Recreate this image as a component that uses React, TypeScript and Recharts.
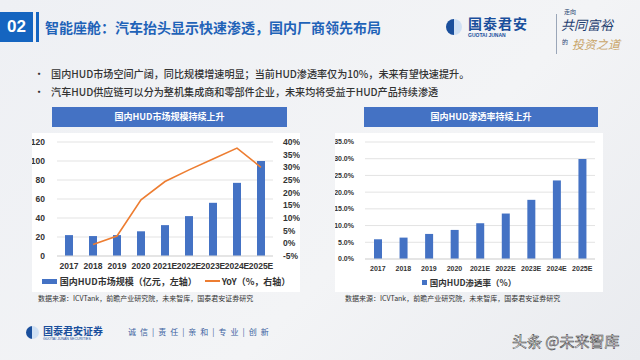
import React from "react";
import {
  ComposedChart,
  BarChart,
  Bar,
  Line,
  XAxis,
  YAxis,
  CartesianGrid,
} from "recharts";

const years = ["2017", "2018", "2019", "2020", "2021E", "2022E", "2023E", "2024E", "2025E"];
const marketSize = [22, 21, 22, 26, 32.5, 42, 56, 77, 100];
const yoy = [null, -0.5, 2.9, 17.2, 24.4, 29, 33.3, 37.6, 30];
const penetration = [5.9, 6.4, 7.5, 8.7, 10.7, 13.6, 17.7, 23.5, 29.9];

const leftTicks = [0, 20, 40, 60, 80, 100, 120];
const rightTicks = [-5, 0, 5, 10, 15, 20, 25, 30, 35, 40];
const penTicks = [0, 5, 10, 15, 20, 25, 30, 35];

const bullets = [
  "国内HUD市场空间广阔，同比规模增速明显；当前HUD渗透率仅为10%，未来有望快速提升。",
  "汽车HUD供应链可以分为整机集成商和零部件企业，未来均将受益于HUD产品持续渗透",
];
const sourceText = "数据来源：ICVTank，前瞻产业研究院，未来智库，国泰君安证券研究";
const sizeName = "国内HUD市场规模（亿元，左轴）";
const yoyName = "YoY（%，右轴）";
const rateName = "国内HUD渗透率（%）";

const marketData = years.map((y, i) => ({ year: y, size: marketSize[i], yoy: yoy[i] }));
const penData = years.map((y, i) => ({ year: y, rate: penetration[i] }));

const BLUE = "#4472c4";
const ORANGE = "#ed7d31";
const CJK = "'Noto Sans CJK SC', 'Noto Sans', sans-serif";
const LATIN = "'Liberation Sans', Arial, sans-serif";
const tickStyle = { fontSize: 8.5, fontWeight: 700, fill: "#333", fontFamily: LATIN };
const smallTick = { fontSize: 7, fontWeight: 700, fill: "#333", fontFamily: LATIN };

const legendRow = {
  position: "absolute" as const,
  display: "flex",
  justifyContent: "center",
  alignItems: "center",
  fontFamily: CJK,
  color: "#333",
  fontWeight: 700,
  whiteSpace: "nowrap" as const,
};

const Header = ({ left, width, text }: { left: number; width: number; text: string }) => (
  <div
    style={{
      position: "absolute",
      left,
      top: 107,
      width,
      height: 20,
      background: BLUE,
      color: "#fff",
      fontFamily: CJK,
      fontWeight: 700,
      fontSize: 9,
      lineHeight: "20px",
      textAlign: "center",
    }}
  >
    {text}
  </div>
);

export default function App() {
  return (
    <div
      style={{
        position: "absolute",
        left: 0,
        top: 0,
        width: 640,
        height: 360,
        overflow: "hidden",
        background: "linear-gradient(135deg, #eef0f4 0%, #f3f4f6 60%, #e9ebef 100%)",
        fontFamily: CJK,
      }}
    >
      {/* title */}
      <div style={{ position: "absolute", left: 0, top: 12, width: 33, height: 30, background: "#1565c0", color: "#fff", fontWeight: 700, fontSize: 17, lineHeight: "30px", textAlign: "center", fontFamily: LATIN }}>
        02
      </div>
      <div style={{ position: "absolute", left: 36, top: 12, width: 3, height: 30, background: "#1565c0" }} />
      <div style={{ position: "absolute", left: 45, top: 17, fontSize: 14, fontWeight: 700, color: "#1f63b8", whiteSpace: "nowrap" }}>
        智能座舱：汽车抬头显示快速渗透，国内厂商领先布局
      </div>

      {/* logo */}
      <div style={{ position: "absolute", left: 446, top: 19, width: 16, height: 16, borderRadius: "50%", background: "linear-gradient(90deg, #1a4f9c 50%, #cfe0f4 50%)" }} />
      <div style={{ position: "absolute", left: 468, top: 13, fontSize: 14, fontWeight: 700, color: "#1a4f9c", letterSpacing: 1 }}>国泰君安</div>
      <div style={{ position: "absolute", left: 468, top: 32, fontSize: 5, fontWeight: 700, color: "#1a4f9c", fontFamily: LATIN }}>GUOTAI JUNAN</div>
      <div style={{ position: "absolute", left: 556, top: 14, width: 1, height: 40, background: "#9aa6b8" }} />
      <div style={{ position: "absolute", left: 564, top: 7, fontSize: 6, color: "#1f3f70" }}>走向</div>
      <div style={{ position: "absolute", left: 561, top: 15, fontSize: 13, color: "#1f3f70", fontStyle: "italic", whiteSpace: "nowrap" }}>共同富裕</div>
      <div style={{ position: "absolute", left: 562, top: 37, fontSize: 6, color: "#1f3f70" }}>的</div>
      <div style={{ position: "absolute", left: 572, top: 35, fontSize: 12, color: "#c9a56a", fontStyle: "italic", whiteSpace: "nowrap" }}>投资之道</div>

      {/* bullets */}
      {bullets.map((b, i) => (
        <div key={i} style={{ position: "absolute", left: 34, top: 66 + i * 18, fontSize: 10.1, color: "#333", whiteSpace: "nowrap", fontWeight: 500 }}>
          <span style={{ marginRight: 7 }}>•</span>
          {b}
        </div>
      ))}

      {/* left chart */}
      <Header left={52} width={235} text="国内HUD市场规模持续上升" />
      <div style={{ position: "absolute", left: 32, top: 133, width: 268, height: 159, background: "#fff" }}>
        <ComposedChart width={268} height={140} data={marketData} margin={{ top: 9, right: 0, left: 0, bottom: 0 }}>
          <CartesianGrid vertical={false} stroke="#e3e3e3" yAxisId="left" />
          <XAxis dataKey="year" tickLine={false} axisLine={{ stroke: "#d9d9d9" }} tick={tickStyle} interval={0} height={17} tickMargin={1} />
          <YAxis yAxisId="left" domain={[0, 120]} ticks={leftTicks} interval={0} width={25} tickLine={false} axisLine={false} tick={tickStyle} tickMargin={6} />
          <YAxis yAxisId="right" orientation="right" domain={[-5, 40]} ticks={rightTicks} interval={0} width={27} tickLine={false} axisLine={false} tick={tickStyle} tickMargin={4} tickFormatter={(v) => `${v}%`} />
          <Bar yAxisId="left" dataKey="size" name={sizeName} fill={BLUE} barSize={8} isAnimationActive={false} />
          <Line yAxisId="right" dataKey="yoy" name={yoyName} type="linear" stroke={ORANGE} strokeWidth={1.6} dot={false} isAnimationActive={false} />
        </ComposedChart>
        <div style={{ ...legendRow, left: 0, top: 141, width: 268, height: 14, fontSize: 9 }}>
          <span style={{ display: "inline-block", width: 15, height: 5, background: BLUE, marginRight: 3 }} />
          <span style={{ marginRight: 8 }}>{sizeName}</span>
          <span style={{ display: "inline-block", width: 15, height: 2, background: ORANGE, marginRight: 2 }} />
          <span>{yoyName}</span>
        </div>
      </div>
      <div style={{ position: "absolute", left: 38, top: 293, fontSize: 7, color: "#333", whiteSpace: "nowrap" }}>{sourceText}</div>

      {/* right chart */}
      <Header left={364} width={234} text="国内HUD渗透率持续上升" />
      <div style={{ position: "absolute", left: 335, top: 133, width: 268, height: 159, background: "#fff" }}>
        <BarChart width={268} height={143} data={penData} margin={{ top: 9, right: 8, left: 0, bottom: 0 }}>
          <CartesianGrid vertical={false} stroke="#e3e3e3" />
          <XAxis dataKey="year" tickLine={false} axisLine={{ stroke: "#d9d9d9" }} tick={smallTick} interval={0} height={17} tickMargin={1} />
          <YAxis domain={[0, 35]} ticks={penTicks} interval={0} width={30} tickLine={false} axisLine={false} tick={smallTick} tickMargin={5} tickFormatter={(v) => `${v.toFixed(1)}%`} />
          <Bar dataKey="rate" name={rateName} fill={BLUE} barSize={8} isAnimationActive={false} />
        </BarChart>
        <div style={{ ...legendRow, left: 0, top: 142, width: 268, height: 14, fontSize: 8.5 }}>
          <span style={{ display: "inline-block", width: 5, height: 5, background: BLUE, marginRight: 3 }} />
          <span>{rateName}</span>
        </div>
      </div>
      <div style={{ position: "absolute", left: 345, top: 293, fontSize: 7, color: "#333", whiteSpace: "nowrap" }}>{sourceText}</div>

      {/* footer */}
      <div style={{ position: "absolute", left: 26, top: 326, width: 13, height: 13, borderRadius: "50%", background: "linear-gradient(90deg, #1a4f9c 50%, #cfe0f4 50%)" }} />
      <div style={{ position: "absolute", left: 43, top: 323, fontSize: 10, fontWeight: 700, color: "#1a4f9c" }}>国泰君安证券</div>
      <div style={{ position: "absolute", left: 43, top: 337, fontSize: 3.5, color: "#1a4f9c", fontFamily: LATIN }}>GUOTAI JUNAN SECURITIES</div>
      <div style={{ position: "absolute", left: 128, top: 326, fontSize: 8, color: "#3a5fa0", whiteSpace: "nowrap", letterSpacing: 4 }}>
        诚信|责任|亲和|专业|创新
      </div>
      <div style={{ position: "absolute", left: 512, top: 330, fontSize: 15, color: "#fff", WebkitTextStroke: "0.5px #333", whiteSpace: "nowrap" }}>
        头条 @未来智库
      </div>
    </div>
  );
}
